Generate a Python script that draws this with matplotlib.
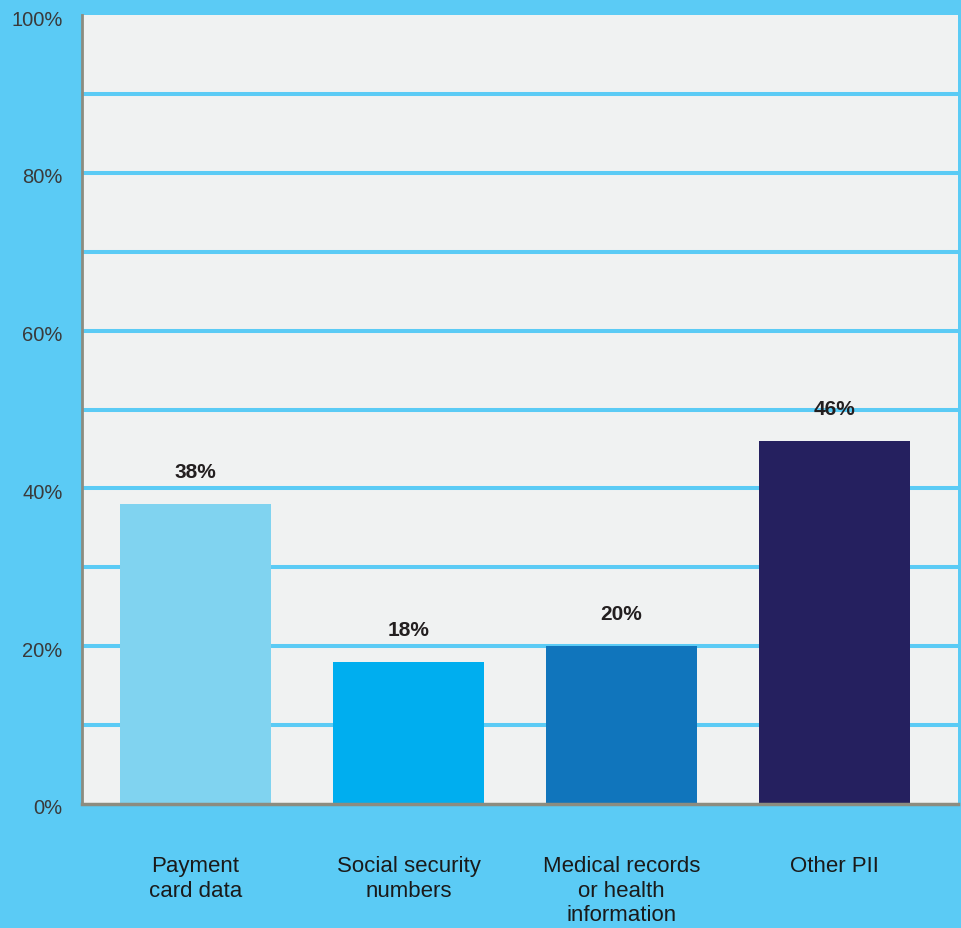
import matplotlib.pyplot as plt
import matplotlib.transforms as mtransforms
import numpy as np

categories = ["Payment\ncard data", "Social security\nnumbers", "Medical records\nor health\ninformation", "Other PII"]
values = [38, 18, 20, 46]
bar_colors = ["#80D3F0", "#00AEEF", "#1075BC", "#25205F"]
y_ticks = [0, 20, 40, 60, 80, 100]

bg = "#5BCBF5"
plt.rcParams["font.family"] = ["Liberation Sans", "DejaVu Sans"]

fig = plt.figure(figsize=(9.61, 9.29), dpi=100, facecolor=bg)
ax = fig.add_axes([82 / 961, 1 - 805 / 929, (958 - 82) / 961, (805 - 16) / 929])
ax.set_facecolor("#F0F2F2")

x = np.arange(len(categories))
ax.bar(x, values, width=0.71, color=bar_colors, zorder=3)

for xi, v in zip(x, values):
    ax.text(xi, v + 2.9, f"{v}%", ha="center", va="bottom", fontsize=15,
            fontweight="bold", color="#231F20", zorder=4)

ax.set_xlim(-0.533, 3.58)
ax.set_ylim(0, 100)

# horizontal bands every 10%
for y in range(10, 100, 10):
    ax.axhline(y, color=bg, lw=2.9, zorder=1)

ax.set_yticks(y_ticks)
ax.set_yticklabels([f"{t}%" for t in y_ticks], fontsize=14.5, color="#3A3A3A")
ax.tick_params(axis="y", length=0, pad=14)
ax.set_xticks(x)
ax.set_xticklabels(categories, fontsize=16, color="#1A1A1A", linespacing=1.2)
ax.tick_params(axis="x", length=0, pad=37)

# y labels sit a little below their gridlines
offset = mtransforms.ScaledTranslation(0, -4 / 100, fig.dpi_scale_trans)
for lbl in ax.get_yticklabels():
    lbl.set_verticalalignment("center")
    lbl.set_transform(lbl.get_transform() + offset)

for side in ["top", "right"]:
    ax.spines[side].set_visible(False)
ax.spines["left"].set_color("#8C8C80")
ax.spines["left"].set_linewidth(2)
ax.spines["bottom"].set_color("#8C8C80")
ax.spines["bottom"].set_linewidth(2.5)
ax.spines["left"].set_zorder(5)
ax.spines["bottom"].set_zorder(5)

plt.savefig("out.png", dpi=100, facecolor=bg)
